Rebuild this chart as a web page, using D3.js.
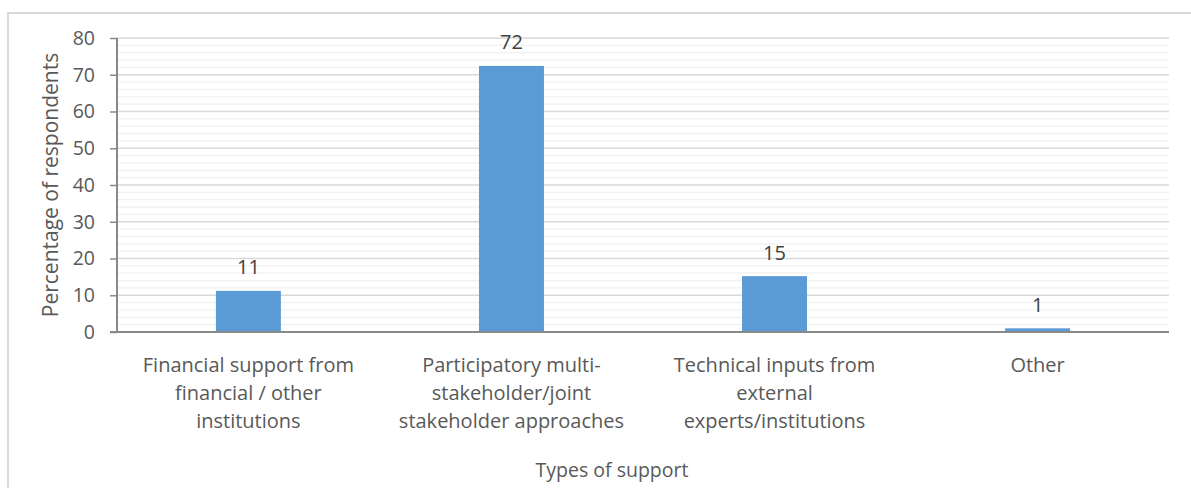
<!DOCTYPE html>
<html><head><meta charset="utf-8">
<script src="https://cdn.jsdelivr.net/npm/d3@7"></script>
<style>html,body{margin:0;padding:0;background:#fff;}svg{display:block;font-family:"Open Sans",sans-serif;}</style>
</head><body>
<svg id="c" width="1191" height="488"></svg>
<script>
const categories = [
  ["Financial support from", "financial / other", "institutions"],
  ["Participatory multi-", "stakeholder/joint", "stakeholder approaches"],
  ["Technical inputs from", "external", "experts/institutions"],
  ["Other"]
];
const values = [11.2, 72.4, 15.2, 1.0];
const yTicks = [0, 10, 20, 30, 40, 50, 60, 70, 80];
const yTitle = "Percentage of respondents";
const xTitle = "Types of support";

const svg = d3.select("#c");
const m = {left:117, right:1169, top:38, bottom:332};
svg.append("rect").attr("x",8).attr("y",13).attr("width",1200).attr("height",500)
  .attr("fill","#fff").attr("stroke","#d9d9d9").attr("stroke-width",2);

const x = d3.scaleBand().domain(d3.range(categories.length)).range([m.left,m.right]).paddingInner(0.753).paddingOuter(0.376);
const y = d3.scaleLinear().domain([0,80]).range([m.bottom,m.top]);

// minor gridlines
const minor = d3.range(2,80,2).filter(v=>v%10!==0);
svg.append("g").selectAll("line").data(minor).join("line")
  .attr("x1",m.left).attr("x2",m.right).attr("y1",d=>y(d)).attr("y2",d=>y(d))
  .attr("stroke","#f0f0f0").attr("stroke-width",1.3);
svg.append("g").selectAll("line").data(yTicks.filter(d=>d>0)).join("line")
  .attr("x1",m.left).attr("x2",m.right).attr("y1",d=>y(d)).attr("y2",d=>y(d))
  .attr("stroke","#d9d9d9").attr("stroke-width",1.3);

// bars
svg.append("g").selectAll("rect").data(values).join("rect")
  .attr("x",(d,i)=>x(i)).attr("width",x.bandwidth())
  .attr("y",d=>y(d)).attr("height",d=>y(0)-y(d)).attr("fill","#5b9bd5");

// data labels
svg.append("g").selectAll("text").data(values).join("text")
  .attr("x",(d,i)=>x(i)+x.bandwidth()/2).attr("y",d=>y(d)-16.5)
  .attr("text-anchor","middle").style("font-size","20px").attr("fill","#404040")
  .text(d=>d3.format(".0f")(d));

// y axis
const ya = svg.append("g").attr("transform",`translate(${m.left},0)`)
  .call(d3.axisLeft(y).tickValues(yTicks).tickSize(7).tickPadding(15));
ya.attr("font-family",null).attr("font-size",null);
ya.select(".domain").attr("stroke","#898989").attr("stroke-width",2).attr("d",`M0,${m.top}V${m.bottom}`);
ya.selectAll(".tick line").attr("stroke","#898989").attr("stroke-width",1.5);
ya.selectAll(".tick text").style("font-size","19.5px").attr("fill","#595959").style("font-family","Open Sans");

// x axis line
svg.append("line").attr("x1",m.left-7).attr("x2",m.right).attr("y1",y(0)).attr("y2",y(0))
  .attr("stroke","#898989").attr("stroke-width",2);

// category labels
const cl = svg.append("g").selectAll("text").data(categories).join("text")
  .attr("text-anchor","middle").style("font-size","20px").attr("fill","#595959");
cl.each(function(lines,i){
  d3.select(this).selectAll("tspan").data(lines).join("tspan")
    .attr("x",x(i)+x.bandwidth()/2).attr("y",(d,j)=>371.5+j*28.3).text(d=>d);
});

// titles
svg.append("text").attr("transform",`translate(58,${(m.top+m.bottom)/2}) rotate(-90)`)
  .attr("text-anchor","middle").style("font-size","21px").attr("fill","#595959").text(yTitle);
svg.append("text").attr("x",612).attr("y",477).attr("text-anchor","middle")
  .style("font-size","19.5px").attr("fill","#595959").text(xTitle);
</script>
</body></html>
